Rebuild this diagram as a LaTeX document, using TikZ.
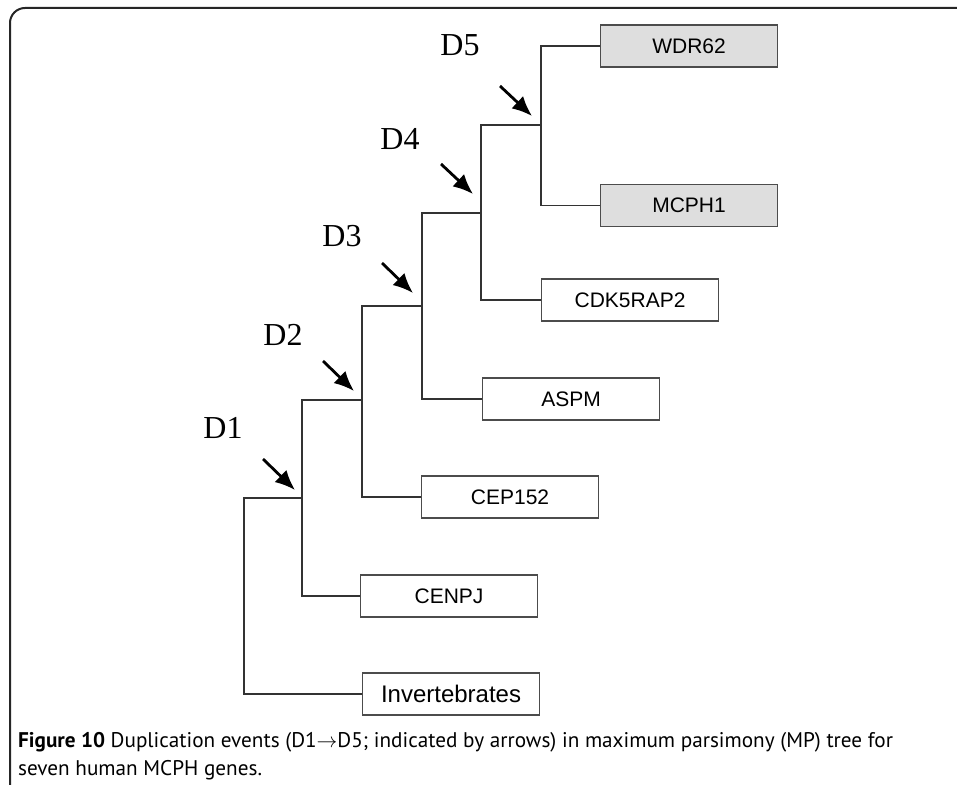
\documentclass[tikz,border=0pt]{standalone}
\usepackage{fontspec}
\usepackage{tikz}
\usetikzlibrary{arrows.meta, positioning, calc}

\setmainfont{Liberation Serif}
\newfontfamily\genefamily{Liberation Sans}
\newfontfamily\capfamily{PT Sans}

\begin{document}
\begin{tikzpicture}[x=1pt, y=-1pt, >={Latex[length=20pt,width=17pt]},
            gene/.style={draw=black!70, line width=1.1pt, rectangle, minimum width=177pt, minimum height=42pt,
                inner sep=0pt, anchor=west, font=\genefamily\fontsize{21pt}{25pt}\selectfont},
            mcph/.style={gene, fill=black!13},
            dup/.style={font=\fontsize{32pt}{36pt}\selectfont},
            branch/.style={line width=1.2pt, black!80},
            event/.style={->, line width=2.8pt},
            frame/.style={line width=2pt, black!85, rounded corners=15pt}]

            \useasboundingbox (0,0) rectangle (957,784);
            \draw[frame] (10,790) |- (957,8);

            % genes
            \node[mcph] (wdr) at (600,46) {WDR62};
            \node[mcph, below=116pt of wdr.south west, anchor=north west] (mcph1) {MCPH1};
            \node[gene] (cdk) at (541,300) {CDK5RAP2};
            \node[gene] (aspm) at (482,399) {ASPM};
            \node[gene] (cep) at (421,497) {CEP152};
            \node[gene] (cenpj) at (360,596) {CENPJ};
            \node[gene, font=\genefamily\fontsize{24pt}{28pt}\selectfont] (inv) at (362,694) {Invertebrates};

            % tree
            \coordinate (n5) at (541,125);
            \coordinate (n4) at (481,213);
            \coordinate (n3) at (422,306);
            \coordinate (n2) at (362,400);
            \coordinate (n1) at (302,498);
            \coordinate (root) at (244,600);

            \draw[branch] (wdr.west) -| (n5) |- (mcph1.west);
            \draw[branch] (n5) -| (n4) |- (cdk.west);
            \draw[branch] (n4) -| (n3) |- (aspm.west);
            \draw[branch] (n3) -| (n2) |- (cep.west);
            \draw[branch] (n2) -| (n1) |- (cenpj.west);
            \draw[branch] (n1) -| (root) |- (inv.west);

            % duplication events
            \foreach \i/\sx/\sy/\ex/\ey/\lx/\ly in {1/263/459/295/490/223/428, 2/323/361/354/391/283/335,
                3/382/263/413/293/342/236, 4/441/164/473/194/400/139, 5/500/86/532/116/460/45} {
                \coordinate (s\i) at (\sx,\sy);
                \coordinate (e\i) at (\ex,\ey);
                \draw[event] (s\i) -- (e\i);
                \node[dup] (d\i) at (\lx,\ly) {D\i};
            }

            % caption
            \node[anchor=base west, inner sep=0pt, font=\capfamily\fontsize{21.2pt}{28pt}\selectfont] (cap1) at (18,747)
                {\textbf{Figure 10} Duplication events (D1\ensuremath{\rightarrow}D5; indicated by arrows) in maximum parsimony (MP) tree for};
            \node[anchor=base west, inner sep=0pt, font=\capfamily\fontsize{21.2pt}{28pt}\selectfont] (cap2) at (18,775)
                {seven human MCPH genes.};
        \end{tikzpicture}
\end{document}
